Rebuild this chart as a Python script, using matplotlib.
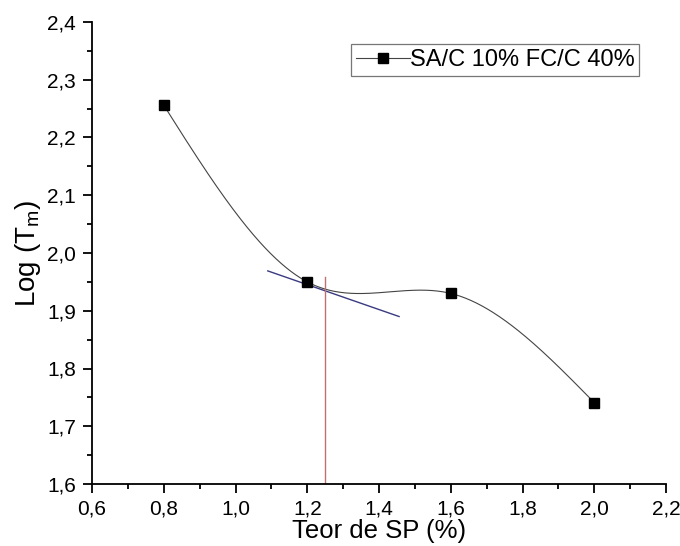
import numpy as np
import matplotlib
matplotlib.use("Agg")
import matplotlib.pyplot as plt
from matplotlib.ticker import MultipleLocator, FuncFormatter

# Data
x_sp = [0.8, 1.2, 1.6, 2.0]
log_tm = [2.256, 1.95, 1.93, 1.741]
series_label = "SA/C 10% FC/C 40%"
tangent_x = [1.09, 1.456]
tangent_y = [1.969, 1.890]
vline_x = 1.25
vline_top = 1.958

plt.rcParams['font.family'] = ['Liberation Sans', 'DejaVu Sans']
plt.rcParams['mathtext.fontset'] = 'custom'
plt.rcParams['mathtext.rm'] = 'Liberation Sans'
plt.rcParams['mathtext.it'] = 'Liberation Sans'


def natural_spline(xs, ys, n=400):
    xs = np.asarray(xs, float)
    ys = np.asarray(ys, float)
    k = len(xs)
    h = np.diff(xs)
    A = np.zeros((k, k))
    b = np.zeros(k)
    A[0, 0] = 1
    A[-1, -1] = 1
    for i in range(1, k - 1):
        A[i, i - 1] = h[i - 1]
        A[i, i] = 2 * (h[i - 1] + h[i])
        A[i, i + 1] = h[i]
        b[i] = 6 * ((ys[i + 1] - ys[i]) / h[i] - (ys[i] - ys[i - 1]) / h[i - 1])
    M = np.linalg.solve(A, b)
    xx = np.linspace(xs[0], xs[-1], n)
    yy = np.empty_like(xx)
    for j, xv in enumerate(xx):
        i = min(np.searchsorted(xs, xv, side='right') - 1, k - 2)
        hi = h[i]
        a = xs[i + 1] - xv
        c = xv - xs[i]
        yy[j] = (M[i] * a**3 / (6 * hi) + M[i + 1] * c**3 / (6 * hi)
                 + (ys[i] / hi - M[i] * hi / 6) * a
                 + (ys[i + 1] / hi - M[i + 1] * hi / 6) * c)
    return xx, yy


fig = plt.figure(figsize=(6.8, 5.46), dpi=100)
ax = fig.add_axes([92 / 680, 1 - 484 / 546, (666 - 92) / 680, (484 - 22) / 546])

sx, sy = natural_spline(x_sp, log_tm)
ax.plot(sx, sy, color='#444444', lw=0.8, zorder=2)
ax.plot(x_sp, log_tm, ls='none', marker='s', ms=7.5, color='black', zorder=3)
# legend proxy
ax.plot([], [], color='#444444', lw=0.8, marker='s', ms=7.5, mfc='black', mec='black',
        label=series_label)

ax.plot(tangent_x, tangent_y, color='#3a3a80', lw=1.0, zorder=2.5)
ax.plot([vline_x, vline_x], [1.6, vline_top], color='#c07070', lw=1.0, zorder=2.5)

ax.set_xlim(0.6, 2.2)
ax.set_ylim(1.6, 2.4)
ax.xaxis.set_major_locator(MultipleLocator(0.2))
ax.xaxis.set_minor_locator(MultipleLocator(0.1))
ax.yaxis.set_major_locator(MultipleLocator(0.1))
ax.yaxis.set_minor_locator(MultipleLocator(0.05))
fmt = FuncFormatter(lambda v, p: f"{v:.1f}".replace('.', ','))
ax.xaxis.set_major_formatter(fmt)
ax.yaxis.set_major_formatter(fmt)

for s in ['top', 'right']:
    ax.spines[s].set_visible(False)
for s in ['left', 'bottom']:
    ax.spines[s].set_linewidth(1.3)
ax.tick_params(which='major', direction='out', length=6.5, width=1.3, labelsize=15)
ax.tick_params(axis='x', which='major', pad=5)
ax.tick_params(axis='y', which='major', pad=5)
ax.tick_params(which='minor', direction='out', length=3.5, width=1.3)

ax.set_xlabel("Teor de SP (%)", fontsize=18.5, labelpad=0)
ax.set_ylabel("Log (T$_{\\mathrm{m}}$)", fontsize=20, labelpad=3)

leg = ax.legend(loc='upper left', bbox_to_anchor=(0.451, 0.952), borderaxespad=0,
                fontsize=17, frameon=True, fancybox=False, handlelength=2.3,
                handletextpad=0.0, borderpad=0.2, markerscale=1.0)
leg.get_frame().set_edgecolor('#555555')
leg.get_frame().set_linewidth(0.9)

fig.savefig("out.png", dpi=100, facecolor='white')
